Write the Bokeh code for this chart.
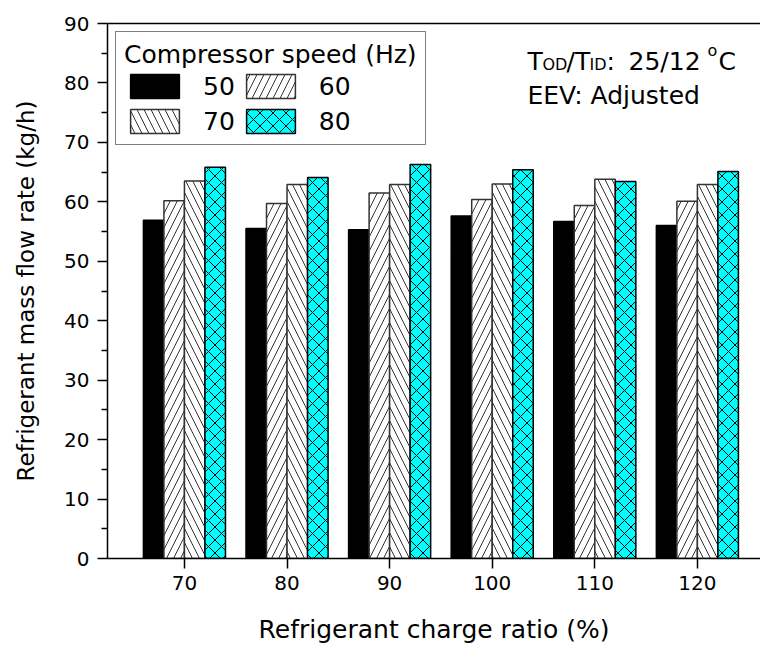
import numpy as np
from bokeh.plotting import figure
from bokeh.models import (Range1d, LinearAxis, FixedTicker, Legend, LegendItem, Label)
from bokeh.embed import file_html
from bokeh.resources import INLINE

# Refrigerant mass flow rate (kg/h) per charge ratio, one list per compressor speed
charge_ratio = [70, 80, 90, 100, 110, 120]
speed_labels = ["50", "60", "70", "80"]
flow_50hz = [56.9, 55.5, 55.3, 57.6, 56.7, 56.0]
flow_60hz = [60.2, 59.7, 61.5, 60.4, 59.4, 60.1]
flow_70hz = [63.5, 62.9, 62.9, 63.0, 63.8, 62.9]
flow_80hz = [65.8, 64.1, 66.3, 65.4, 63.4, 65.1]
y_ticks = [0, 10, 20, 30, 40, 50, 60, 70, 80, 90]

FONT = "DejaVu Sans"
W, H = 760, 647
LEFT, TOP, BOTTOM = 107, 23, 89
X0, Y0, Y1 = 62.5, 0, 90
PX_PER_X = 10.259
X1 = X0 + (W - LEFT) / PX_PER_X

p = figure(width=W, height=H, x_range=Range1d(X0, X1), y_range=Range1d(Y0, Y1),
           output_backend="svg", toolbar_location=None,
           min_border_left=LEFT, min_border_right=0,
           min_border_top=TOP, min_border_bottom=BOTTOM)
p.outline_line_color = None
p.xgrid.visible = False
p.ygrid.visible = False
p.background_fill_color = "white"
p.border_fill_color = "white"

# axes
xa = p.xaxis[0]
xa.ticker = FixedTicker(ticks=charge_ratio)
xa.axis_label = "Refrigerant charge ratio (%)"
ya = p.yaxis[0]
ya.ticker = FixedTicker(ticks=y_ticks, minor_ticks=[v + 5 for v in y_ticks[:-1]])
ya.axis_label = "Refrigerant mass flow rate (kg/h)"
for ax in (xa, ya):
    ax.axis_line_color = "black"
    ax.axis_line_width = 1.5
    ax.major_tick_line_color = "black"
    ax.major_tick_line_width = 1.5
    ax.major_tick_in = 0
    ax.major_tick_out = 10
    ax.minor_tick_line_color = "black"
    ax.minor_tick_line_width = 1.5
    ax.minor_tick_in = 0
    ax.minor_tick_out = 6
    ax.major_label_text_font = FONT
    ax.major_label_text_font_size = "20px"
    ax.major_label_text_color = "black"
    ax.axis_label_text_font = FONT
    ax.axis_label_text_font_style = "normal"
    ax.axis_label_text_color = "black"
xa.minor_tick_line_color = None
xa.major_label_standoff = 7
xa.axis_label_text_font_size = "25px"
xa.axis_label_standoff = 22
ya.major_label_standoff = 8
ya.axis_label_text_font_size = "23px"
ya.axis_label_standoff = 22

top_axis = LinearAxis(ticker=FixedTicker(ticks=[]), axis_line_color="black",
                      axis_line_width=1.5, major_tick_line_color=None,
                      minor_tick_line_color=None)
p.add_layout(top_axis, "above")

# grouped bars
bar_w = 2.0
offsets = [-3, -1, 1, 3]
xs = np.array(charge_ratio, dtype=float)
series = [flow_50hz, flow_60hz, flow_70hz, flow_80hz]
styles = [
    dict(fill_color="black", line_color="black"),
    dict(fill_color="white", line_color="#333333", hatch_pattern="/",
         hatch_color="#333333", hatch_scale=14, hatch_weight=1),
    dict(fill_color="white", line_color="#333333", hatch_pattern="\\",
         hatch_color="#333333", hatch_scale=14, hatch_weight=1),
    dict(fill_color="#00FFFF", line_color="black", hatch_pattern="x",
         hatch_color="black", hatch_scale=13, hatch_weight=1),
]
renderers = []
for off, vals, st in zip(offsets, series, styles):
    r = p.vbar(x=xs + off, top=vals, bottom=0, width=bar_w, line_width=1.5, **st)
    renderers.append(r)

legend = Legend(
    items=[LegendItem(label=lab, renderers=[r]) for lab, r in zip(speed_labels, renderers)],
    title="Compressor speed (Hz)", location="top_left",
    orientation="horizontal", ncols=2,
    border_line_color="black", border_line_width=1,
    background_fill_color="white", background_fill_alpha=1,
    label_text_font=FONT, label_text_font_size="25px", label_text_color="black",
    title_text_font=FONT, title_text_font_size="25px", title_text_font_style="normal",
    title_text_color="black",
    glyph_width=61, glyph_height=30, label_standoff=18,
    padding=8, margin=8, spacing=5, title_standoff=2,
)
p.add_layout(legend)


# condition notes in the upper right, placed by pixel offsets inside the frame
def dx(px):
    return X0 + (px - LEFT) / PX_PER_X


def dy(py):
    return Y1 - (py - TOP) * (Y1 - Y0) / (H - BOTTOM - TOP)


main_base, sub_base, sup_base = dy(61), dy(63.5), dy(50)
pieces = [
    ("T", 527, 25, main_base), ("OD", 542, 16, sub_base),
    ("/T", 566, 25, main_base), ("ID", 589, 16, sub_base),
    (":", 606, 25, main_base), ("25/12", 628, 25, main_base),
    ("o", 707, 16, sup_base), ("C", 718, 25, main_base),
]
for txt, px, size, base in pieces:
    p.add_layout(Label(x=dx(px), y=base, text=txt, text_font=FONT,
                       text_font_size=f"{size}px", text_color="black",
                       text_align="left", text_baseline="alphabetic"))
p.add_layout(Label(x=dx(527), y=dy(95), text="EEV: Adjusted", text_font=FONT,
                   text_font_size="25px", text_color="black",
                   text_align="left", text_baseline="alphabetic"))

open("out.html", "w").write(file_html(p, INLINE))
